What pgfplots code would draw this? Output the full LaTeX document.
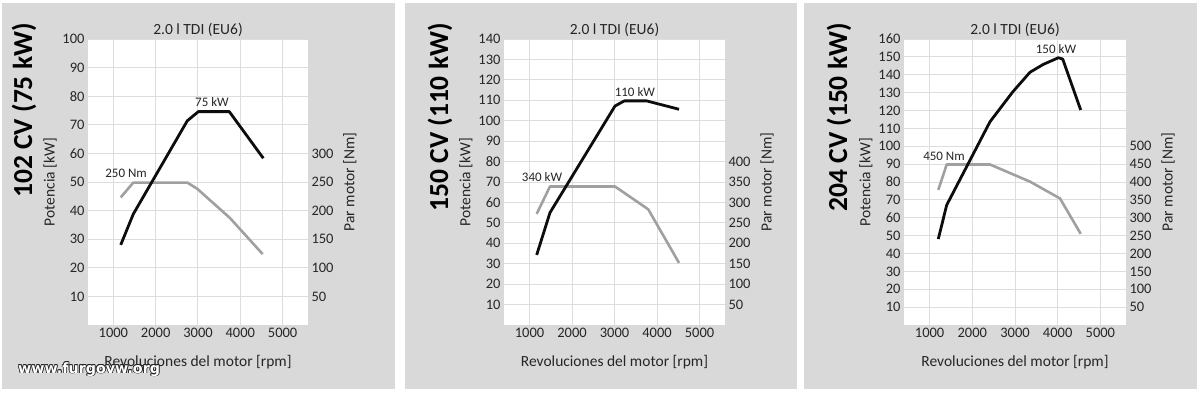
\documentclass[border=0pt]{standalone}
\usepackage{fontspec}
\setmainfont{Carlito}
\newfontfamily\wmfont{DejaVu Sans Bold}
\usepackage{pgfplots}
\pgfplotsset{compat=1.18}

\definecolor{panelgray}{HTML}{D9D9D9}
\definecolor{gridgray}{HTML}{DDDDDD}
\definecolor{txt}{HTML}{262626}
\definecolor{torq}{HTML}{A0A0A0}
\definecolor{pow}{HTML}{0D0D0D}

\tikzset{annot/.style={font=\fontsize{13}{15}\selectfont, text=txt}}

\pgfplotsset{
  panel/.style={
    anchor=south west, scale only axis, height=286pt,
    xmin=400, xmax=5600, ymin=0,
    axis line style={draw=none}, tick style={draw=none},
    ticklabel style={font=\fontsize{14.5}{16}\selectfont, text=txt},
    /pgf/number format/1000 sep={},
    /pgf/number format/assume math mode=true,
    xtick={1000,2000,3000,4000,5000},
  },
  leftax/.style={
    panel, grid=major, grid style={gridgray, line width=1pt},
    axis background/.style={fill=white},
    ytick={10,20,...,160},
    every axis title/.style={at={(axis description cs:0.5,1.031)}, anchor=center,
      font=\fontsize{15.5}{17}\selectfont, text=txt},
    every axis x label/.style={at={(axis description cs:0.5,-0.129)}, anchor=center,
      font=\fontsize{15.5}{17}\selectfont, text=txt},
    every axis y label/.style={at={(axis description cs:-0.1725,0.5)}, rotate=90, anchor=center,
      font=\fontsize{15.5}{17}\selectfont, text=txt},
    title={2.0 l TDI (EU6)},
    xlabel={Revoluciones del motor [rpm]},
    ylabel={Potencia [kW]},
  },
  rightax/.style={
    panel, axis y line*=right, axis x line=none,
    axis line style={draw=none},
    every axis y label/.style={at={(axis description cs:1.19,0.5)}, rotate=90, anchor=center,
      font=\fontsize{15.5}{17}\selectfont, text=txt},
    ylabel={Par motor [Nm]},
  },
  powax/.style={panel, hide axis, clip=false},
  powline/.style={pow, line width=2.8pt, line join=round},
  torqline/.style={torq, line width=2.6pt, line join=round},
}

\begin{document}
\begin{tikzpicture}
\fill[white] (0,0) rectangle (1200pt,392pt);
\fill[panelgray] (2pt,3pt) rectangle (395pt,389pt);
\fill[panelgray] (405pt,3pt) rectangle (797pt,389pt);
\fill[panelgray] (804pt,3pt) rectangle (1197pt,389pt);

% ---------------- Panel 1 ----------------
\begin{axis}[leftax, at={(88pt,67pt)}, width=220pt, ymax=100]
\end{axis}
\begin{axis}[rightax, at={(88pt,67pt)}, width=220pt, ymax=500, ytick={50,100,...,300}]
\addplot[torqline] coordinates {(1173,223) (1471,249) (2747,249) (2985,238) (3756,187) (4528,124)};
\end{axis}
\begin{axis}[powax, at={(88pt,67pt)}, width=220pt, ymax=100]
\addplot[powline] coordinates {(1173,28) (1471,38.8) (2747,71.4) (3008,74.6) (3740,74.6) (4544,58.3)};
\node[annot] at (axis cs:3330,78) {75 kW};
\node[annot] at (axis cs:1300,53) {250 Nm};
\end{axis}
\node[rotate=90, anchor=east, inner sep=0pt, font=\fontsize{27.5}{30}\selectfont\bfseries] at (24pt,369pt) {102 CV (75 kW)};

% ---------------- Panel 2 ----------------
\begin{axis}[leftax, at={(504pt,67pt)}, width=221pt, ymax=140]
\end{axis}
\begin{axis}[rightax, at={(504pt,67pt)}, width=221pt, ymax=700, ytick={50,100,...,400}]
\addplot[torqline] coordinates {(1169,272) (1482,339) (3012,339) (3795,283) (4518,152)};
\end{axis}
\begin{axis}[powax, at={(504pt,67pt)}, width=221pt, ymax=140]
\addplot[powline] coordinates {(1169,34.3) (1482,55) (3012,107.2) (3231,109.7) (3757,109.7) (4518,105.6)};
\node[annot] at (axis cs:3480,114) {110 kW};
\node[annot] at (axis cs:1295,72.4) {340 kW};
\end{axis}
\node[rotate=90, anchor=east, inner sep=0pt, font=\fontsize{27.5}{30}\selectfont\bfseries] at (440pt,369pt) {150 CV (110 kW)};

% ---------------- Panel 3 ----------------
\begin{axis}[leftax, at={(904pt,67pt)}, width=222pt, ymax=160]
\end{axis}
\begin{axis}[rightax, at={(904pt,67pt)}, width=222pt, ymax=800, ytick={50,100,...,500}]
\addplot[torqline] coordinates {(1203,378) (1400,449) (2414,449) (3351,401) (4054,354) (4539,255)};
\end{axis}
\begin{axis}[powax, at={(904pt,67pt)}, width=222pt, ymax=160]
\addplot[powline] coordinates {(1203,48.1) (1400,67.1) (2414,113.7) (2950,130.5) (3351,141.4) (3663,145.8) (4015,149.5) (4117,148.8) (4539,120.3)};
\node[annot] at (axis cs:3960,154.4) {150 kW};
\node[annot] at (axis cs:1337,94.5) {450 Nm};
\end{axis}
\node[rotate=90, anchor=east, inner sep=0pt, font=\fontsize{27.5}{30}\selectfont\bfseries] at (839pt,369pt) {204 CV (150 kW)};

% ---------------- Watermark ----------------
\foreach \dx/\dy in {-0.8/0,0.8/0,0/-0.8,0/0.8,-0.6/-0.6,0.6/0.6,-0.6/0.6,0.6/-0.6}{
  \node[anchor=base west, inner sep=0pt, text=black!85, font=\wmfont\fontsize{14.3}{16}\selectfont]
    at ({18pt+\dx pt},{19pt+\dy pt}) {www.furgovw.org};
}
\node[anchor=base west, inner sep=0pt, text=white, font=\wmfont\fontsize{14.3}{16}\selectfont]
  at (18pt,19pt) {www.furgovw.org};
\end{tikzpicture}
\end{document}
